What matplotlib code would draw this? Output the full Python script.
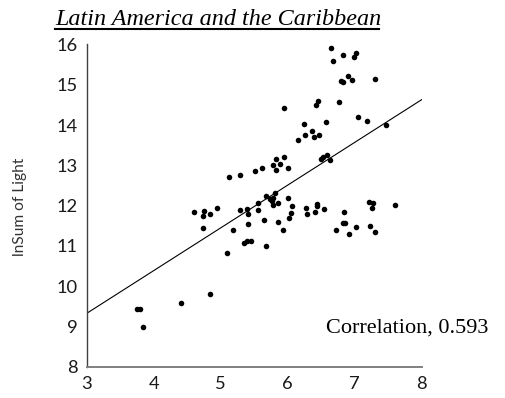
import matplotlib
matplotlib.use("Agg")
import matplotlib.pyplot as plt
from matplotlib.lines import Line2D
import numpy as np

TITLE = "Latin America and the Caribbean"
Y_LABEL = "lnSum of Light"
NOTE = "Correlation, 0.593"

X_TICKS = [3, 4, 5, 6, 7, 8]
Y_TICKS = [8, 9, 10, 11, 12, 13, 14, 15, 16]

# points
x_vals = [
    6.65, 6.68, 6.82, 6.99, 7.02,
    6.79, 6.82, 6.90, 6.96, 7.30,
    5.95, 6.42, 6.45, 6.77,
    6.25, 6.57, 7.05, 7.18, 7.46,
    6.36, 6.26, 6.40, 6.46, 6.16,
    6.49, 6.53, 6.59, 6.63,
    5.12, 5.29, 5.51, 5.61, 5.82, 5.95, 5.78, 5.88, 5.83, 6.00,
    5.67, 5.73, 5.76, 5.78, 5.85, 5.81, 5.78, 6.01,
    4.60, 4.75, 4.73, 4.84, 4.95, 4.73,
    5.29, 5.39, 5.41, 5.56, 5.56,
    6.07, 6.05, 6.02, 5.86, 5.65, 5.41, 5.93, 5.18,
    5.35, 5.39, 5.45, 5.67, 5.09,
    6.28, 6.43, 6.44, 6.54, 6.29, 6.41,
    6.84, 6.72, 6.83, 6.86, 6.92, 7.02,
    7.21, 7.27, 7.26, 7.23, 7.31, 7.60,
    3.75, 3.80, 3.84, 4.41, 4.84,
]
y_vals = [
    15.91, 15.59, 15.73, 15.69, 15.80,
    15.10, 15.06, 15.22, 15.12, 15.14,
    14.41, 14.50, 14.60, 14.58,
    14.02, 14.08, 14.19, 14.10, 13.99,
    13.85, 13.75, 13.71, 13.75, 13.62,
    13.15, 13.21, 13.26, 13.13,
    12.72, 12.75, 12.85, 12.93, 13.16, 13.21, 13.00, 13.03, 12.89, 12.93,
    12.23, 12.16, 12.10, 12.18, 12.07, 12.31, 12.02, 12.19,
    11.85, 11.86, 11.74, 11.78, 11.93, 11.44,
    11.90, 11.91, 11.78, 12.06, 11.88,
    11.98, 11.81, 11.68, 11.60, 11.63, 11.55, 11.40, 11.40,
    11.06, 11.11, 11.11, 11.00, 10.81,
    11.94, 12.00, 12.03, 11.92, 11.78, 11.83,
    11.84, 11.40, 11.56, 11.56, 11.30, 11.46,
    12.08, 12.07, 11.93, 11.50, 11.35, 12.02,
    9.44, 9.42, 8.98, 9.57, 9.79,
]

# trend line as drawn in the reference
trend_intercept = 9.32
trend_slope = 1.062

fig = plt.figure(figsize=(5.06, 3.98), dpi=100)
ax = fig.add_axes([0.1713, 0.0791, 0.6621, 0.8091])

ax.scatter(x_vals, y_vals, s=16, color="black", linewidths=0, zorder=3)
line_x = np.array([X_TICKS[0], X_TICKS[-1]])
ax.plot(line_x, trend_intercept + trend_slope * (line_x - X_TICKS[0]),
        color="black", linewidth=0.8)

ax.set_xlim(X_TICKS[0], X_TICKS[-1])
ax.set_ylim(Y_TICKS[0], Y_TICKS[-1])
ax.set_xticks(X_TICKS)
ax.set_yticks(Y_TICKS)
ax.tick_params(length=0, pad=6.5, labelsize=13.2, labelcolor="#1a1a1a")
for lab in ax.get_xticklabels() + ax.get_yticklabels():
    lab.set_family("Lato")
for side in ["top", "right"]:
    ax.spines[side].set_visible(False)
ax.spines["left"].set_color("#404040")
ax.spines["bottom"].set_color("#808080")
ax.spines["left"].set_linewidth(1.0)
ax.spines["bottom"].set_linewidth(1.4)

ax.set_ylabel(Y_LABEL, family="Lato", fontsize=11.2, color="#333333")
ax.yaxis.set_label_coords(-0.178, 0.495)

ax.text(6.57, 8.96, NOTE, family="Liberation Serif", fontsize=16, va="center")

fig.text(55 / 506, 1 - 25 / 398, TITLE, family="Liberation Serif", style="italic",
         fontsize=17.4, ha="left", va="baseline")
fig.add_artist(Line2D([55 / 506, 379 / 506], [1 - 28.5 / 398, 1 - 28.5 / 398],
                      color="black", linewidth=1.5))

fig.savefig("out.png", dpi=100)
